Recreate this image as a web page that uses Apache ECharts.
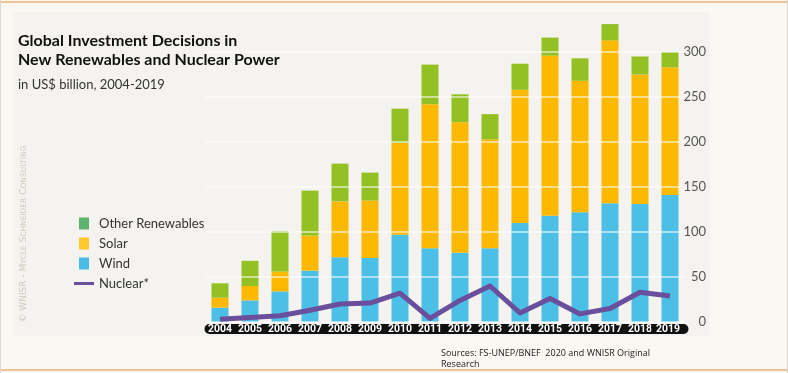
<!DOCTYPE html>
<html>
<head>
<meta charset="utf-8">
<script src="https://cdn.jsdelivr.net/npm/echarts@6/dist/echarts.min.js"></script>
<style>
html,body{margin:0;padding:0;background:#fbf8f4;}
#c{width:788px;height:373px;}
</style>
</head>
<body>
<div id="c"></div>
<script>
const years = ['2004','2005','2006','2007','2008','2009','2010','2011','2012','2013','2014','2015','2016','2017','2018','2019'];
const wind = [16, 24, 34, 57, 72, 71, 97, 82, 77, 82, 110, 118, 122, 132, 131, 141];
const solar = [11, 16, 22, 39, 62, 64, 102, 160, 145, 121, 148, 178, 146, 181, 144, 142];
const otherRenewables = [16, 28, 45, 50, 42, 31, 38, 44, 31, 28, 29, 20, 25, 18, 20, 17];
const nuclear = [3, 5, 7, 13, 20, 21, 32, 4, 24, 40, 10, 26, 9, 15, 33, 29];
const yTicks = [0, 50, 100, 150, 200, 250, 300];

const C_WIND = '#4cbfe6', C_SOLAR = '#fcb900', C_OTHER = '#93c022', C_NUC = '#6a4f9c';

const chart = echarts.init(document.getElementById('c'), null, {renderer: 'canvas'});
const pillBase = {backgroundColor: '#111', color: '#fff', fontWeight: 'bold', fontSize: 10.5,
  fontFamily: 'Roboto', width: 31, align: 'center', lineHeight: 10, height: 10, padding: [0, 0]};

chart.setOption({
  animation: false,
  backgroundColor: '#fbf8f4',
  graphic: [
    {type: 'rect', z: -10, shape: {x: 0, y: 1, width: 788, height: 2}, style: {fill: '#efc493'}},
    {type: 'rect', z: -10, shape: {x: 0, y: 369, width: 788, height: 2}, style: {fill: '#efc493'}},
    {type: 'rect', z: -10, shape: {x: 0, y: 0, width: 1, height: 373}, style: {fill: '#ddd6ce'}},
    {type: 'rect', z: -10, shape: {x: 787, y: 0, width: 1, height: 373}, style: {fill: '#ddd6ce'}},
    {type: 'rect', z: -9, shape: {x: 13, y: 12, width: 697, height: 324}, style: {fill: '#f5f3f0'}},
    {type: 'text', z: 1, x: 24, y: 234, rotation: Math.PI / 2,
      style: {text: '© WNISR - M{s|YCLE} S{s|CHNEIDER} C{s|ONSULTING}', fill: '#d0c7bd',
        font: '9px "DejaVu Sans"', align: 'center', verticalAlign: 'middle',
        rich: {s: {fontSize: 7.5, fontFamily: 'DejaVu Sans', fill: '#d0c7bd'}}}},
    {type: 'text', z: 1, left: 441, top: 348,
      style: {text: 'Sources: FS-UNEP/BNEF  2020 and WNISR Original\nResearch', fill: '#222',
        font: '9px "Open Sans"', lineHeight: 11}}
  ],
  title: {
    text: 'Global Investment Decisions in\nNew Renewables and Nuclear Power',
    subtext: 'in US$ billion, 2004-2019',
    left: 13, top: 26, itemGap: 8,
    textStyle: {fontFamily: 'Lato', fontWeight: 'bold', fontSize: 16, lineHeight: 19, color: '#111'},
    subtextStyle: {fontFamily: 'Lato', fontSize: 13, color: '#333', lineHeight: 15}
  },
  legend: {
    orient: 'vertical', left: 69, top: 212, itemGap: 7, itemWidth: 20, itemHeight: 12,
    selectedMode: false,
    textStyle: {fontFamily: 'Lato', fontSize: 13, color: '#333', lineHeight: 12},
    data: [
      {name: 'Other Renewables', icon: 'path://M0,0h10v12h-10z', itemStyle: {color: '#5cb56c'}},
      {name: 'Solar', icon: 'path://M0,0h10v12h-10z', itemStyle: {color: '#fdc72e'}},
      {name: 'Wind', icon: 'path://M0,0h10v12h-10z', itemStyle: {color: '#49bde6'}},
      {name: 'Nuclear*', icon: 'path://M0,0h20v3h-20z', itemStyle: {color: C_NUC}}
    ]
  },
  grid: {left: 205, right: 103, top: 52, bottom: 51},
  xAxis: {
    type: 'category', data: years,
    axisLine: {show: false}, axisTick: {show: false},
    axisLabel: {
      margin: 2, interval: 0,
      formatter: function (v, i) {
        const key = i === 0 ? 'first' : (i === years.length - 1 ? 'last' : 'mid');
        return '{' + key + '|' + v + '}';
      },
      rich: {
        mid: Object.assign({}, pillBase),
        first: Object.assign({}, pillBase, {borderRadius: [5, 0, 0, 5]}),
        last: Object.assign({}, pillBase, {width: 33, borderRadius: [0, 5, 5, 0], padding: [0, 4, 0, 0]})
      }
    }
  },
  yAxis: {
    type: 'value', position: 'right', min: yTicks[0], max: yTicks[yTicks.length - 1], interval: 50,
    z: 3,
    axisLine: {show: false}, axisTick: {show: false},
    axisLabel: {margin: 21, align: 'right', color: '#555', fontFamily: 'Lato', fontSize: 13},
    splitLine: {show: true, lineStyle: {color: 'rgba(255,255,255,0.7)', width: 1.5}}
  },
  series: [
    {name: 'Wind', type: 'bar', stack: 'r', data: wind, barWidth: 17, clip: false,
      itemStyle: {color: C_WIND}},
    {name: 'Solar', type: 'bar', stack: 'r', data: solar, barWidth: 17, clip: false,
      itemStyle: {color: C_SOLAR}},
    {name: 'Other Renewables', type: 'bar', stack: 'r', data: otherRenewables, barWidth: 17, clip: false,
      itemStyle: {color: C_OTHER}},
    {name: 'Nuclear*', type: 'line', data: nuclear, z: 5, symbol: 'none', clip: false,
      lineStyle: {color: C_NUC, width: 5, join: 'round'}, itemStyle: {color: C_NUC}}
  ]
});
</script>
</body>
</html>
